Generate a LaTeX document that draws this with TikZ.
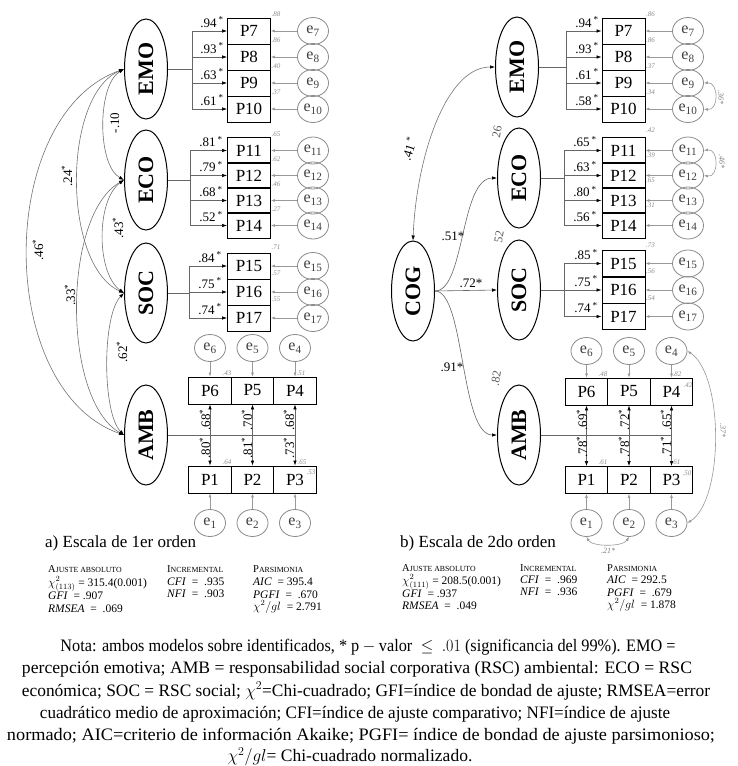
\documentclass[tikz,border=0pt]{standalone}
\usepackage{fontspec}
\setmainfont{Liberation Serif}
\usetikzlibrary{shapes.geometric,arrows.meta}
\newcommand\mysc[2]{{\fontsize{10.5}{10.5}\selectfont #1}{\fontsize{7.8}{7.8}\selectfont #2}}
\tikzset{
 lat/.style={ellipse, draw, line width=1pt, minimum width=43pt, minimum height=100pt, inner sep=0pt, font=\fontsize{22}{22}\selectfont\bfseries},
 obs/.style={rectangle, draw, line width=0.9pt, minimum width=43pt, minimum height=26pt, inner sep=0pt, font=\fontsize{17}{17}\selectfont},
 obsb/.style={obs, minimum width=42.5pt, minimum height=27pt},
 err/.style={ellipse, draw=black!45, line width=0.8pt, minimum width=31pt, minimum height=27pt, inner sep=0pt, text=black!75, font=\fontsize{16}{16}\selectfont},
 load/.style={draw=black!60, line width=0.6pt},
 loadarr/.style={load, -{Latex[color=black,length=5pt,width=3.5pt]}},
 dblarr/.style={load, {Latex[color=black,length=5pt,width=3.5pt]}-{Latex[color=black,length=5pt,width=3.5pt]}},
 errarr/.style={draw=black!40, line width=0.6pt, -{Latex[length=4pt,width=3pt]}},
 cov/.style={draw=black!55, line width=0.6pt, {Latex[color=black,length=5pt,width=3.5pt]}-{Latex[color=black,length=5pt,width=3.5pt]}},
 covg/.style={draw=black!40, line width=0.6pt, {Latex[length=4pt,width=3pt]}-{Latex[length=4pt,width=3pt]}},
 lbl/.style={font=\fontsize{13}{13}\selectfont, inner sep=0pt},
 rsq/.style={font=\fontsize{7}{7}\selectfont\itshape, text=black!45, inner sep=0.5pt},
 glbl/.style={font=\fontsize{8}{8}\selectfont\itshape, text=black!50, inner sep=0pt},
 flbl/.style={font=\fontsize{12}{12}\selectfont, text=black!65, inner sep=0pt},
 captxt/.style={font=\fontsize{17}{17}\selectfont, inner sep=0pt, anchor=west},
 tabtxt/.style={font=\fontsize{11.5}{11.5}\selectfont, inner sep=0pt, anchor=base west},
 notetxt/.style={font=\fontsize{17.5}{17.5}\selectfont, inner sep=0pt},
}
\begin{document}
\begin{tikzpicture}[x=1pt,y=-1pt]
\fill[white] (0,0) rectangle (737,766);

% ================= LEFT MODEL =================
\node[lat] (aEMO) at (146,69) {\rotatebox{90}{EMO}};
\node[lat] (aECO) at (146,180) {\rotatebox{90}{ECO}};
\node[lat] (aSOC) at (146,293) {\rotatebox{90}{SOC}};
\node[lat] (aAMB) at (146,435) {\rotatebox{90}{AMB}};

\coordinate (abE) at (192,0);
\coordinate (abC) at (190,0);
\coordinate (abS) at (189,0);

\foreach \i/\y/\l/\r in {7/31/.94/.88, 8/57/.93/.86, 9/83/.63/.40, 10/109/.61/.37}{
  \node[obs] (aP\i) at (249,\y) {P\i};
  \node[err] (ae\i) at (313,\y) {e\textsubscript{\i}};
  \draw[errarr] (ae\i) -- (aP\i);
  \draw[loadarr] (abE |- aP\i) -- (aP\i.west);
  \node[lbl, anchor=base] at (212,\y-4) {\l\,\textsuperscript{*}};
  \node[rsq, anchor=south west] at (aP\i.north east) {\r};
}
\draw[load] (aEMO.east) -- (aEMO.east -| abE);
\draw[load] (abE |- aP7) -- (abE |- aP10);

\foreach \i/\y/\l/\r in {11/150.5/.81/.65, 12/175.5/.79/.62, 13/200.5/.68/.46, 14/225.5/.52/.27}{
  \node[obs] (aP\i) at (249,\y) {P\i};
  \node[err] (ae\i) at (313,\y) {e\textsubscript{\i}};
  \draw[errarr] (ae\i) -- (aP\i);
  \draw[loadarr] (abC |- aP\i) -- (aP\i.west);
  \node[lbl, anchor=base] at (211,\y-4) {\l\,\textsuperscript{*}};
  \node[rsq, anchor=south west] at (aP\i.north east) {\r};
}
\draw[load] (aECO.east) -- (aECO.east -| abC);
\draw[load] (abC |- aP11) -- (abC |- aP14);

\foreach \i/\y/\l/\r in {15/266/.84/.71, 16/292/.75/.57, 17/318/.74/.55}{
  \node[obs] (aP\i) at (249,\y) {P\i};
  \node[err] (ae\i) at (313,\y) {e\textsubscript{\i}};
  \draw[errarr] (ae\i) -- (aP\i);
  \draw[loadarr] (abS |- aP\i) -- (aP\i.west);
  \node[lbl, anchor=base] at (210,\y-4) {\l\,\textsuperscript{*}};
  \node[rsq, anchor=south west] at ([yshift=2pt]aP\i.north east) {\r};
}
\draw[load] (aSOC.east) -- (aSOC.east -| abS);
\draw[load] (abS |- aP15) -- (abS |- aP17);

% AMB block left
\node[obsb] (aP6) at (210,390.5) {P6};
\node[obsb] (aP5) at (252.5,390.5) {P5};
\node[obsb] (aP4) at (295,390.5) {P4};
\node[obsb] (aP1) at (210,479.5) {P1};
\node[obsb] (aP2) at (252.5,479.5) {P2};
\node[obsb] (aP3) at (295,479.5) {P3};
\node[err] (ae6) at (210,348) {e\textsubscript{6}};
\node[err] (ae5) at (252.5,348) {e\textsubscript{5}};
\node[err] (ae4) at (295,348) {e\textsubscript{4}};
\node[err] (ae1) at (210,523) {e\textsubscript{1}};
\node[err] (ae2) at (252.5,523) {e\textsubscript{2}};
\node[err] (ae3) at (295,523) {e\textsubscript{3}};
\foreach \a/\b in {ae6/aP6, ae5/aP5, ae4/aP4, ae1/aP1, ae2/aP2, ae3/aP3}
  \draw[errarr] (\a) -- (\b);
\draw[load] (aAMB.east) -- (aAMB.east -| aP3);
\foreach \t/\b in {aP6/aP1, aP5/aP2, aP4/aP3}
  \draw[dblarr] (\t.south) -- (\b.north);
\node[lbl, rotate=90] at (205,420) {.68\textsuperscript{*}};
\node[lbl, rotate=90] at (205,448) {.80\textsuperscript{*}};
\node[lbl, rotate=90] at (247,420) {.70\textsuperscript{*}};
\node[lbl, rotate=90] at (247,448) {.81\textsuperscript{*}};
\node[lbl, rotate=90] at (289,420) {.68\textsuperscript{*}};
\node[lbl, rotate=90] at (289,448) {.73\textsuperscript{*}};
\node[rsq] at (227,373) {.43};
\node[rsq] at (301,373) {.51};
\node[rsq] at (227,462) {.64};
\node[rsq] at (302,462) {.65};
\node[rsq] at (311,472) {.53};

% covariances left
\draw[cov] (aEMO.west) .. controls (97,85) and (97,165) .. (aECO.west);
\draw[cov] (aEMO.west) .. controls (62,95) and (62,265) .. (aSOC.west);
\draw[cov] (aEMO.west) .. controls (-5,115) and (-5,390) .. (aAMB.west);
\draw[cov] (aECO.west) .. controls (96,200) and (96,273) .. (aSOC.west);
\draw[cov] (aECO.west) .. controls (62,215) and (62,400) .. (aAMB.west);
\draw[cov] (aSOC.west) .. controls (102,315) and (102,413) .. (aAMB.west);
\node[lbl, rotate=90] at (115,123) {-.10};
\node[lbl, rotate=90] at (67,176) {.24\textsuperscript{*}};
\node[lbl, rotate=90] at (38,250) {.46\textsuperscript{*}};
\node[lbl, rotate=90] at (118,228) {.43\textsuperscript{*}};
\node[lbl, rotate=90] at (70,295) {.33\textsuperscript{*}};
\node[lbl, rotate=90] at (122,352) {.62\textsuperscript{*}};

\node[captxt] (capa) at (45,543) {a) Escala de 1er orden};

% tables left
\node[tabtxt] (ta1) at (48,572) {\mysc{A}{JUSTE ABSOLUTO}};
\node[tabtxt] (ta2) at (48,586) {$\chi^2_{(113)}$ = 315.4(0.001)};
\node[tabtxt] (ta3) at (48,599) {\textit{GFI} \ = .907};
\node[tabtxt] (ta4) at (48,612) {\textit{RMSEA} \ = \ .069};
\node[tabtxt] (ta5) at (167,572) {\mysc{I}{NCREMENTAL}};
\node[tabtxt] (ta6) at (167,585) {\textit{CFI} \ = \ .935};
\node[tabtxt] (ta7) at (167,597) {\textit{NFI} \ = \ .903};
\node[tabtxt] (ta8) at (253,572) {\mysc{P}{ARSIMONIA}};
\node[tabtxt] (ta9) at (253,585) {\textit{AIC} \ = 395.4};
\node[tabtxt] (ta10) at (253,598) {\textit{PGFI} \ = \ .670};
\node[tabtxt] (ta11) at (253,610) {$\chi^2/gl$ \ = 2.791};

% ================= RIGHT MODEL =================
\node[lat] (bCOG) at (413,291) {\rotatebox{90}{COG}};
\node[lat] (bEMO) at (517,67) {\rotatebox{90}{EMO}};
\node[lat] (bECO) at (519,178) {\rotatebox{90}{ECO}};
\node[lat] (bSOC) at (519,290) {\rotatebox{90}{SOC}};
\node[lat] (bAMB) at (519,435) {\rotatebox{90}{AMB}};

\coordinate (bbE) at (566,0);
\coordinate (bbC) at (564,0);
\coordinate (bbS) at (564,0);

\foreach \i/\y/\l/\r in {7/31/.94/.86, 8/57/.93/.86, 9/83/.61/.37, 10/109/.58/.34}{
  \node[obs] (bP\i) at (623.5,\y) {P\i};
  \node[err] (be\i) at (688,\y) {e\textsubscript{\i}};
  \draw[errarr] (be\i) -- (bP\i);
  \draw[loadarr] (bbE |- bP\i) -- (bP\i.west);
  \node[lbl, anchor=base] at (587,\y-4) {\l\,\textsuperscript{*}};
  \node[rsq, anchor=south west] at (bP\i.north east) {\r};
}
\draw[load] (bEMO.east) -- (bEMO.east -| bbE);
\draw[load] (bbE |- bP7) -- (bbE |- bP10);

\foreach \i/\y/\l/\r in {11/150.5/.65/.42, 12/175.5/.63/.39, 13/200.5/.80/.65, 14/225.5/.56/.31}{
  \node[obs] (bP\i) at (623.5,\y) {P\i};
  \node[err] (be\i) at (688,\y) {e\textsubscript{\i}};
  \draw[errarr] (be\i) -- (bP\i);
  \draw[loadarr] (bbC |- bP\i) -- (bP\i.west);
  \node[lbl, anchor=base] at (585,\y-4) {\l\,\textsuperscript{*}};
  \node[rsq, anchor=south west] at ([yshift=4pt]bP\i.north east) {\r};
}
\draw[load] (bECO.east) -- (bECO.east -| bbC);
\draw[load] (bbC |- bP11) -- (bbC |- bP14);

\foreach \i/\y/\l/\r in {15/263.5/.85/.73, 16/290/.75/.56, 17/316.5/.74/.54}{
  \node[obs] (bP\i) at (623.5,\y) {P\i};
  \node[err] (be\i) at (688,\y) {e\textsubscript{\i}};
  \draw[errarr] (be\i) -- (bP\i);
  \draw[loadarr] (bbS |- bP\i) -- (bP\i.west);
  \node[lbl, anchor=base] at (586,\y-4) {\l\,\textsuperscript{*}};
  \node[rsq, anchor=south west] at ([yshift=2pt]bP\i.north east) {\r};
}
\draw[load] (bSOC.east) -- (bSOC.east -| bbS);
\draw[load] (bbS |- bP15) -- (bbS |- bP17);

% AMB block right
\node[obsb] (bP6) at (586.5,391.5) {P6};
\node[obsb] (bP5) at (629,391.5) {P5};
\node[obsb] (bP4) at (671.5,391.5) {P4};
\node[obsb] (bP1) at (586.5,480) {P1};
\node[obsb] (bP2) at (629,480) {P2};
\node[obsb] (bP3) at (671.5,480) {P3};
\node[err] (be6) at (586.5,351) {e\textsubscript{6}};
\node[err] (be5) at (629,351) {e\textsubscript{5}};
\node[err] (be4) at (671.5,351) {e\textsubscript{4}};
\node[err] (be1) at (586.5,523) {e\textsubscript{1}};
\node[err] (be2) at (629,523) {e\textsubscript{2}};
\node[err] (be3) at (671.5,523) {e\textsubscript{3}};
\foreach \a/\b in {be6/bP6, be5/bP5, be4/bP4, be1/bP1, be2/bP2, be3/bP3}
  \draw[errarr] (\a) -- (\b);
\draw[load] (bAMB.east) -- (bAMB.east -| bP3);
\foreach \t/\b in {bP6/bP1, bP5/bP2, bP4/bP3}
  \draw[dblarr] (\t.south) -- (\b.north);
\node[lbl, rotate=90] at (582,420) {.69\textsuperscript{*}};
\node[lbl, rotate=90] at (582,447) {.78\textsuperscript{*}};
\node[lbl, rotate=90] at (624,420) {.72\textsuperscript{*}};
\node[lbl, rotate=90] at (624,447) {.78\textsuperscript{*}};
\node[lbl, rotate=90] at (666,420) {.65\textsuperscript{*}};
\node[lbl, rotate=90] at (666,447) {.71\textsuperscript{*}};
\node[rsq] at (603,374) {.48};
\node[rsq] at (677,374) {.82};
\node[rsq] at (688,385) {.42};
\node[rsq] at (603,462) {.61};
\node[rsq] at (676,462) {.61};
\node[rsq] at (687,473) {.50};

% structural paths right
\draw[cov] (bCOG.north) .. controls (416,160) and (445,67) .. (bEMO.west);
\draw[loadarr] (bCOG.east) .. controls (465,291) and (460,178) .. (bECO.west);
\draw[loadarr] (bCOG.east) -- (bSOC.west);
\draw[loadarr] (bCOG.east) .. controls (465,291) and (460,435) .. (bAMB.west);
\node[lbl, rotate=72] at (409,149) {.41\,\textsuperscript{*}};
\node[lbl] at (453,236) {.51*};
\node[lbl] at (471,283) {.72*};
\node[lbl] at (452,367) {.91*};
\node[flbl, rotate=80] at (497,132) {26};
\node[flbl, rotate=80] at (499,237) {52};
\node[flbl, rotate=80] at (496,378) {.82};

% error covariances right
\draw[covg] (be9.east) .. controls (719,82) and (719,111) .. (be10.east);
\draw[covg] (be11.east) .. controls (719,148) and (719,178) .. (be12.east);
\draw[covg] (be4.east) .. controls (724,375) and (724,500) .. (be3.east);
\draw[covg] (be1.south) .. controls (592,547) and (623,547) .. (be2.south);
\node[glbl, rotate=-90] at (721,97) {.36*};
\node[glbl, rotate=-90] at (722,161) {.46*};
\node[glbl, rotate=-90] at (723,430) {.37*};
\node[glbl] at (608,551) {.21*};

\node[captxt] (capb) at (400,543) {b) Escala de 2do orden};

% tables right
\node[tabtxt] (tb1) at (402,571) {\mysc{A}{JUSTE ABSOLUTO}};
\node[tabtxt] (tb2) at (402,584) {$\chi^2_{(111)}$ = 208.5(0.001)};
\node[tabtxt] (tb3) at (402,597) {\textit{GFI} \ = .937};
\node[tabtxt] (tb4) at (402,609) {\textit{RMSEA} \ = \ .049};
\node[tabtxt] (tb5) at (520,571) {\mysc{I}{NCREMENTAL}};
\node[tabtxt] (tb6) at (520,583) {\textit{CFI} \ = \ .969};
\node[tabtxt] (tb7) at (520,595) {\textit{NFI} \ = \ .936};
\node[tabtxt] (tb8) at (607,571) {\mysc{P}{ARSIMONIA}};
\node[tabtxt] (tb9) at (607,583) {\textit{AIC} \ = 292.5};
\node[tabtxt] (tb10) at (607,596) {\textit{PGFI} \ = \ .679};
\node[tabtxt] (tb11) at (607,608) {$\chi^2/gl$ \ = 1.878};

% ================= NOTE =================
\node[notetxt] (n1) at (368,647) {\resizebox{615pt}{\height}{Nota: ambos modelos sobre identificados, * $\mathrm{p}-\mathrm{valor}\ \leq\ .01$ (significancia del 99\%). EMO =}};
\node[notetxt] (n2) at (357,669) {\resizebox{670pt}{\height}{percepción emotiva; AMB = responsabilidad social corporativa (RSC) ambiental: ECO = RSC}};
\node[notetxt] (n3) at (366,691) {\resizebox{688pt}{\height}{económica; SOC = RSC social; $\chi^2$=Chi-cuadrado; GFI=índice de bondad de ajuste; RMSEA=error}};
\node[notetxt] (n4) at (355,714) {\resizebox{630pt}{\height}{cuadrático medio de aproximación; CFI=índice de ajuste comparativo; NFI=índice de ajuste}};
\node[notetxt] (n5) at (361,736) {\resizebox{708pt}{\height}{normado; AIC=criterio de información Akaike; PGFI= índice de bondad de ajuste parsimonioso;}};
\node[notetxt] (n6) at (350,757) {$\chi^2/gl$= Chi-cuadrado normalizado.};

\pgfresetboundingbox
\path[use as bounding box] (0,0) rectangle (737,766);
\end{tikzpicture}
\end{document}
